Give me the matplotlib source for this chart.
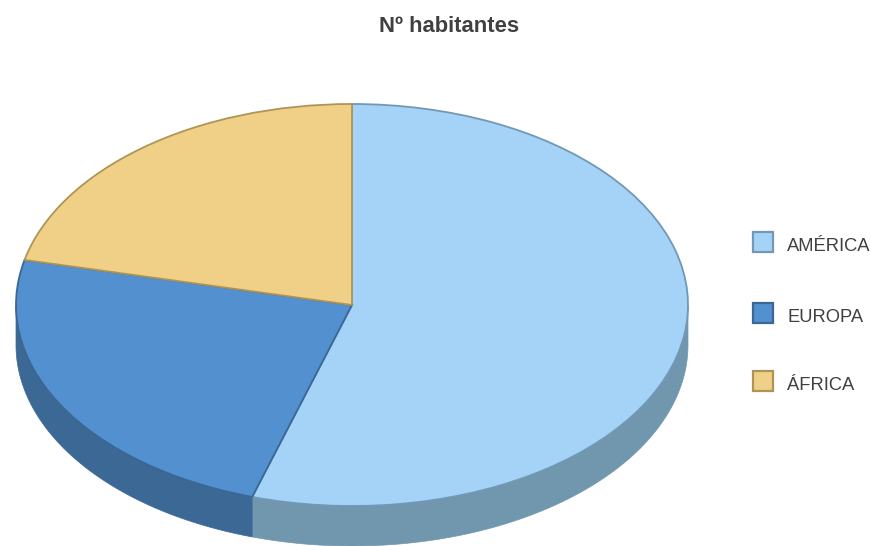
#!/usr/bin/env python3
import matplotlib
matplotlib.use('Agg')
import matplotlib.pyplot as plt
import numpy as np
from matplotlib.patches import Polygon, Rectangle

plt.rcParams['font.family'] = ['Liberation Sans', 'DejaVu Sans']

# Data
title = 'Nº habitantes'
categories = ['AMÉRICA', 'EUROPA', 'ÁFRICA']
values = [54.8, 23.8, 21.4]
face_colors = ['#a5d3f8', '#5290cf', '#f0d086']
edge_colors = ['#7198b5', '#3b6795', '#ae9557']
side_colors = ['#7197af', '#3c6895', '#ae9557']

W, H = 871, 546
CX, CY, RX, RY, DEPTH = 352, 305, 336, 201, 40

fig = plt.figure(figsize=(W / 100, H / 100), dpi=100)
ax = fig.add_axes([(CX - RX) / W, (H - CY - RY) / H, 2 * RX / W, 2 * RY / H])

# Extruded wall under the front half of the pie
drop = DEPTH / RY
fractions = np.array(values) / sum(values)
ends = 90 - 360 * np.cumsum(fractions)
starts = np.r_[90, ends[:-1]]
for start, end, side in zip(starts, ends, side_colors):
    # only the part between -180 and 0 degrees is visible
    hi = min(start, 0)
    lo = max(end, -180)
    if hi <= lo:
        continue
    th = np.radians(np.linspace(lo, hi, 120))
    x, y = np.cos(th), np.sin(th)
    pts = np.r_[np.c_[x, y], np.c_[x[::-1], y[::-1] - drop]]
    ax.add_patch(Polygon(pts, closed=True, facecolor=side, edgecolor=side,
                         linewidth=0.5, clip_on=False, zorder=1))

wedges, _ = ax.pie(values, colors=face_colors, startangle=90, counterclock=False,
                   radius=1, wedgeprops={'linewidth': 1.3}, frame=False)
for wedge, edge in zip(wedges, edge_colors):
    wedge.set_edgecolor(edge)
    wedge.set_clip_on(False)
    wedge.set_zorder(2)
ax.set_aspect('auto')
ax.set_xlim(-1, 1)
ax.set_ylim(-1, 1)
ax.axis('off')

fig.text(449 / W, 1 - 26.5 / H, title, ha='center', va='center', fontsize=15.8,
         fontweight='bold', color='#404040')

# Legend, hand placed to sit like the original
legend_y = [242, 313, 381]
for name, y, face, edge in zip(categories, legend_y, face_colors, edge_colors):
    fig.add_artist(Rectangle((753 / W, 1 - (y + 10) / H), 20 / W, 20 / H,
                             transform=fig.transFigure, facecolor=face,
                             edgecolor=edge, linewidth=1.6))
    fig.text(787 / W, 1 - (y + 4.5) / H, name, ha='left', va='center',
             fontsize=13.2, color='#404040')

fig.savefig('out.png', dpi=100)
